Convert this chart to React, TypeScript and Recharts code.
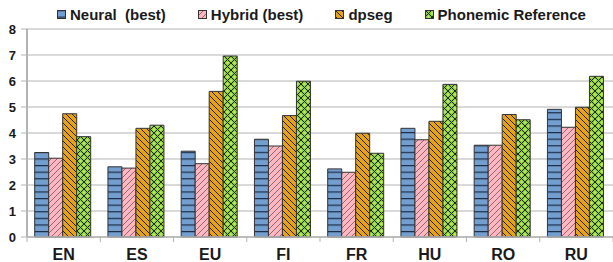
import { BarChart, Bar, XAxis, YAxis, CartesianGrid, Legend } from "recharts";

const categories = ["EN", "ES", "EU", "FI", "FR", "HU", "RO", "RU"];
const neural = [3.25, 2.7, 3.3, 3.76, 2.62, 4.18, 3.53, 4.91];
const hybrid = [3.03, 2.65, 2.82, 3.5, 2.49, 3.74, 3.53, 4.22];
const dpseg = [4.74, 4.18, 5.6, 4.67, 3.99, 4.45, 4.71, 4.99];
const phonemic = [3.86, 4.3, 6.96, 5.99, 3.22, 5.87, 4.51, 6.18];
const yTicks = [0, 1, 2, 3, 4, 5, 6, 7, 8];

const SERIES = [
    { key: "neural", label: "Neural  (best)", fill: "url(#patNeural)" },
    { key: "hybrid", label: "Hybrid (best)", fill: "url(#patHybrid)" },
    { key: "dpseg", label: "dpseg", fill: "url(#patDpseg)" },
    { key: "phonemic", label: "Phonemic Reference", fill: "url(#patPhon)" },
];

const data = categories.map((c, i) => ({
    name: c,
    neural: neural[i],
    hybrid: hybrid[i],
    dpseg: dpseg[i],
    phonemic: phonemic[i],
}));

const FONT = "'Liberation Sans', Arial, sans-serif";
const GRID = "#b3b3b3";

function CategoryTick(props: any) {
    const { x, y, payload, index } = props;
    const half = payload.offset || 0;
    const left = x - half;
    const last = index === categories.length - 1;
    return (
        <g>
            <line x1={left} x2={left} y1={y} y2={y + 5} stroke={GRID} strokeWidth={1} />
            {last && <line x1={x + half} x2={x + half} y1={y} y2={y + 5} stroke={GRID} />}
            <text x={x} y={y + 23} textAnchor="middle" fontFamily={FONT} fontWeight="bold" fontSize={16} fill="#1a1a1a">
                {payload.value}
            </text>
        </g>
    );
}

function LegendContent() {
    return (
        <div
            style={{
                height: 22,
                display: "flex",
                alignItems: "center",
                paddingLeft: 57,
                fontFamily: FONT,
                fontWeight: "bold",
                fontSize: 15,
                color: "#1a1a1a",
            }}
        >
            {SERIES.map((s) => (
                <div key={s.key} style={{ display: "flex", alignItems: "center", marginRight: 32 }}>
                    <svg width={9} height={9} style={{ marginRight: 4 }}>
                        <rect x={0.5} y={0.5} width={8} height={8} fill={s.fill} stroke="#333" />
                    </svg>
                    <span style={{ whiteSpace: "pre" }}>{s.label}</span>
                </div>
            ))}
        </div>
    );
}

export default function App() {
    return (
        <div style={{ position: "absolute", left: 0, top: 0, width: 613, height: 262 }}>
            <BarChart
                width={613}
                height={262}
                data={data}
                margin={{ top: 7, right: 0, left: 0, bottom: 0 }}
                barCategoryGap="10.5%"
                barGap={0}
            >
                <defs>
                    <pattern id="patNeural" patternUnits="userSpaceOnUse" width={8} height={6.6}>
                        <rect width={8} height={6.6} fill="#729fcf" />
                        <line x1={0} x2={8} y1={0.6} y2={0.6} stroke="#1c2b44" strokeWidth={1.2} />
                    </pattern>
                    <pattern id="patHybrid" patternUnits="userSpaceOnUse" width={6} height={6}>
                        <rect width={6} height={6} fill="#ffb6c1" />
                        <path d="M-1,7 L7,-1 M-1,1 L1,-1 M5,7 L7,5" stroke="#8c6b70" strokeWidth={1} />
                    </pattern>
                    <pattern id="patDpseg" patternUnits="userSpaceOnUse" width={6} height={6}>
                        <rect width={6} height={6} fill="#e3a21a" />
                        <path d="M-1,-1 L7,7 M5,-1 L7,1 M-1,5 L1,7" stroke="#2a2000" strokeWidth={1} />
                    </pattern>
                    <pattern id="patPhon" patternUnits="userSpaceOnUse" width={7} height={7}>
                        <rect width={7} height={7} fill="#8fce2f" />
                        <path d="M0,0 L7,7 M7,0 L0,7" stroke="#1f2a08" strokeWidth={1} />
                        <circle cx={3.5} cy={0} r={1.2} fill="#b8ec70" />
                        <circle cx={3.5} cy={7} r={1.2} fill="#b8ec70" />
                        <circle cx={0} cy={3.5} r={1.2} fill="#b8ec70" />
                        <circle cx={7} cy={3.5} r={1.2} fill="#b8ec70" />
                    </pattern>
                </defs>
                <CartesianGrid vertical={false} stroke={GRID} strokeWidth={1.2} />
                <XAxis
                    dataKey="name"
                    axisLine={{ stroke: GRID, strokeWidth: 1.5 }}
                    tickLine={false}
                    tickSize={0}
                    tickMargin={0}
                    height={25}
                    tick={<CategoryTick />}
                    interval={0}
                />
                <YAxis
                    width={27}
                    domain={[0, 8]}
                    ticks={yTicks}
                    interval={0}
                    axisLine={{ stroke: GRID, strokeWidth: 2 }}
                    tickLine={{ stroke: GRID }}
                    tickSize={6}
                    tickMargin={5}
                    tick={{ fontFamily: FONT, fontWeight: "bold", fontSize: 13, fill: "#1a1a1a" }}
                />
                <Legend verticalAlign="top" align="left" content={<LegendContent />} wrapperStyle={{ top: 3, left: 0 }} />
                {SERIES.map((s) => (
                    <Bar
                        key={s.key}
                        dataKey={s.key}
                        name={s.label}
                        fill={s.fill}
                        stroke="#333"
                        strokeWidth={1}
                        isAnimationActive={false}
                    />
                ))}
            </BarChart>
        </div>
    );
}
